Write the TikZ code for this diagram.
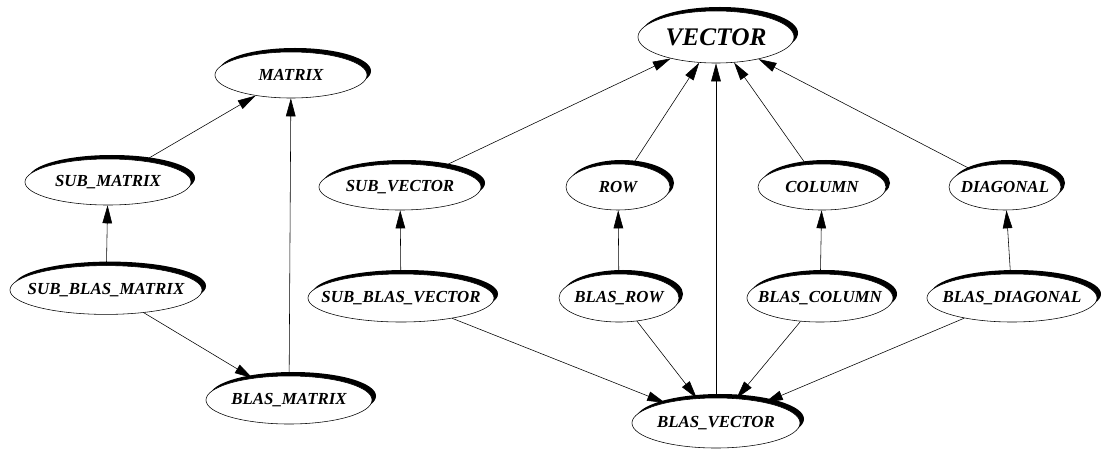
\documentclass[tikz,border=0pt]{standalone}
\usepackage{fontspec}
\setmainfont{Liberation Serif}
\usepackage{tikz}
\usetikzlibrary{arrows.meta,shapes.geometric,shadows}

\newcommand{\lbl}[1]{\makebox[0pt]{#1}}

\begin{document}
\begin{tikzpicture}[->,x=0.025cm,y=-0.025cm,
                    >={Triangle[length=4.5mm,width=2.4mm]},
                    class node/.style={ellipse, draw, fill=white, thin, inner sep=0pt,
                      minimum height=1.15cm, font=\fontsize{12}{14}\selectfont\bfseries\itshape,
                      general shadow={fill=black, shadow xshift=0.1cm, shadow yshift=0.1cm}}]
  \useasboundingbox (0,0) rectangle (1101,449);

  %Matrix side%
  \node[class node, minimum width=3.8cm] (mat) at (291,75) {\lbl{MATRIX}};
  \node[class node, minimum width=4.15cm] (submat) at (108,182) {\lbl{SUB\_MATRIX}};
  \node[class node, minimum width=4.8cm, minimum height=1.22cm] (sbmat) at (106,290) {\lbl{SUB\_BLAS\_MATRIX}};
  \node[class node, minimum width=4.15cm, minimum height=1.2cm] (bmat) at (289,400) {\lbl{BLAS\_MATRIX}};

  %Vector side%
  \node[class node, minimum width=3.9cm, minimum height=1.3cm,
        font=\fontsize{18}{20}\selectfont\bfseries\itshape] (vec) at (716,37) {\lbl{VECTOR}};
  \node[class node, minimum width=4.05cm] (subvec) at (400,187) {\lbl{SUB\_VECTOR}};
  \node[class node, minimum width=2.6cm] (row) at (618,187) {\lbl{ROW}};
  \node[class node, minimum width=3.2cm] (col) at (822,187) {\lbl{COLUMN}};
  \node[class node, minimum width=2.8cm] (diag) at (1005,187) {\lbl{DIAGONAL}};
  \node[class node, minimum width=4.65cm, minimum height=1.2cm] (sbvec) at (401,298) {\lbl{SUB\_BLAS\_VECTOR}};
  \node[class node, minimum width=3.0cm, minimum height=1.2cm] (brow) at (619,298) {\lbl{BLAS\_ROW}};
  \node[class node, minimum width=3.65cm, minimum height=1.2cm] (bcol) at (820,298) {\lbl{BLAS\_COLUMN}};
  \node[class node, minimum width=4.25cm, minimum height=1.2cm] (bdiag) at (1012,298) {\lbl{BLAS\_DIAGONAL}};
  \node[class node, minimum width=4.2cm, minimum height=1.25cm] (bvec) at (716,423) {\lbl{BLAS\_VECTOR}};

  \path[thin]
    (submat) edge (mat)
    (bmat) edge (mat)
    (sbmat) edge (submat)
            edge (bmat)
    (subvec) edge (vec)
    (row) edge (vec)
    (col) edge (vec)
    (diag) edge (vec)
    (bvec) edge (vec)
    (sbvec) edge (subvec)
            edge (bvec)
    (brow) edge (row)
           edge (bvec)
    (bcol) edge (col)
           edge (bvec)
    (bdiag) edge (diag)
            edge (bvec);
\end{tikzpicture}
\end{document}
